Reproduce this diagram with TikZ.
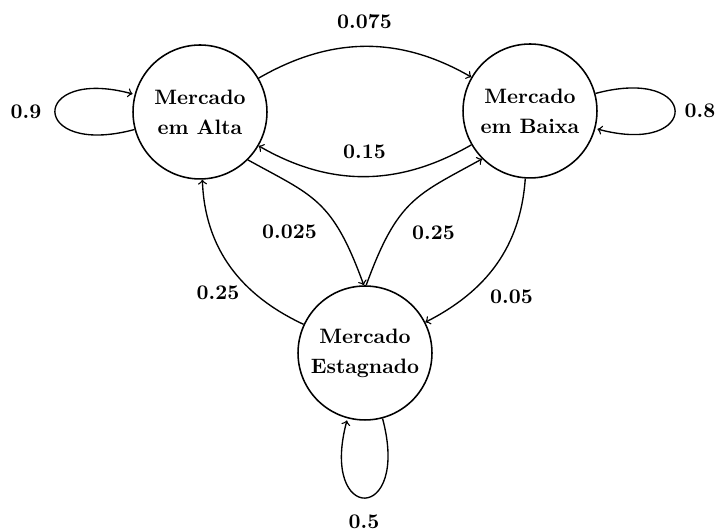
\documentclass[tikz,border=0pt]{standalone}
\begin{document}
\begin{tikzpicture}[x=0.48pt,y=0.48pt,
  state/.style={circle,draw,line width=0.75pt,minimum size=64.3pt,inner sep=0pt,align=center,font=\bfseries},
  edge/.style={->,line width=0.65pt},
  lbl/.style={font=\bfseries,inner sep=0pt}]
\useasboundingbox (0,0) rectangle (718,532);
\node[state] (A) at (200,420) {Mercado\\[2.4pt]em Alta};
\node[state] (B) at (530,421) {Mercado\\[2.4pt]em Baixa};
\node[state] (C) at (365,179) {Mercado\\[2.4pt]Estagnado};
\draw[edge] (A) to[out=30,in=150] (B);
\draw[edge] (B) to[out=210,in=-30] (A);
\draw[edge] (A.-45) to[out=-29,in=110,out distance=35.9pt,in distance=44.3pt] (C.91);
\draw[edge] (C.89) to[out=70,in=-151,out distance=44.3pt,in distance=35.9pt] (B.225);
\draw[edge] (C) to[out=155,in=-88] (A);
\draw[edge] (B) to[out=-94,in=27] (C);
\path (A) edge[edge,loop left] ();
\path (B) edge[edge,loop right] ();
\path (C) edge[edge,loop below] ();
\node[lbl] (l1) at (26,420) {0.9};
\node[lbl] (l2) at (700,421) {0.8};
\node[lbl] (l3) at (364,10) {0.5};
\node[lbl] (l4) at (364.5,510) {0.075};
\node[lbl] (l5) at (364.5,380) {0.15};
\node[lbl] (l6) at (289.5,300) {0.025};
\node[lbl] (l7) at (218,239) {0.25};
\node[lbl] (l8) at (433.5,299) {0.25};
\node[lbl] (l9) at (511.5,235) {0.05};
\end{tikzpicture}
\end{document}
